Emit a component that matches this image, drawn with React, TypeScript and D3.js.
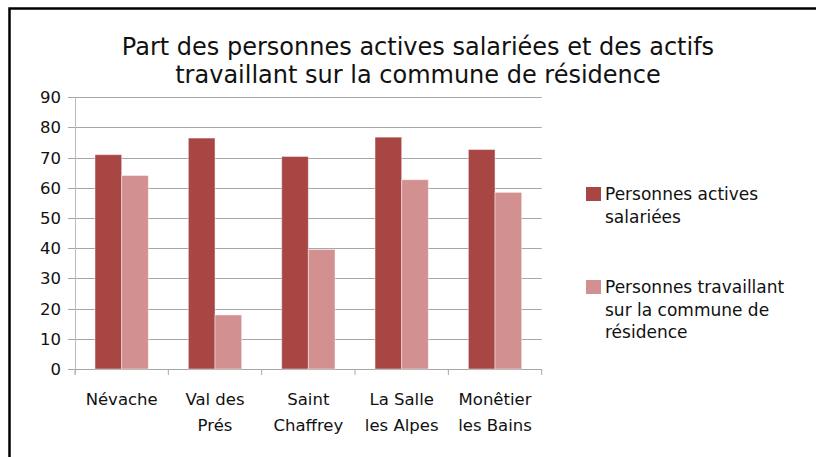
import React, { useEffect, useRef } from 'react';
import * as d3 from 'd3';

const communes = [['Névache'], ['Val des', 'Prés'], ['Saint', 'Chaffrey'], ['La Salle', 'les Alpes'], ['Monêtier', 'les Bains']];
const salaries = [71, 76.5, 70.4, 76.8, 72.7];
const travaillant = [64.1, 17.9, 39.6, 62.7, 58.5];
const seriesNames = [['Personnes actives', 'salariées'], ['Personnes travaillant', 'sur la commune de', 'résidence']];
const yTicks = [0, 10, 20, 30, 40, 50, 60, 70, 80, 90];
const titleLines = ['Part des personnes actives salariées et des actifs', 'travaillant sur la commune de résidence'];
const colors = ['#a84644', '#d39090'];

const FONT = '"DejaVu Sans", sans-serif';

const App: React.FC = () => {
  const svgRef = useRef<SVGSVGElement>(null);

  useEffect(() => {
    if (!svgRef.current) return;
    const svg = d3.select(svgRef.current).html('');

    // frame (left and top only)
    svg.append('path').attr('d', 'M9.5,470 V8.5 H830').attr('fill', 'none').attr('stroke', '#000').attr('stroke-width', 2.5);

    const left = 75, right = 541.7, top = 97.3, bottom = 369;
    const keys = communes.map((c) => c.join(' '));
    const x = d3.scaleBand().domain(keys).range([left, right]).padding(0);
    const y = d3.scaleLinear().domain([0, 90]).range([bottom, top]);
    const inner = d3.scaleBand().domain(['0', '1']).range([0, x.bandwidth()]).paddingOuter(0.75).paddingInner(0);

    // title
    svg.append('text').attr('x', 418).attr('y', 55).attr('text-anchor', 'middle')
      .attr('font-family', FONT).attr('font-size', 24).attr('fill', '#111')
      .selectAll('tspan').data(titleLines).join('tspan')
      .attr('x', 418).attr('dy', (_, i) => (i === 0 ? 0 : 28)).text((d) => d);

    // grid
    svg.append('g').selectAll('line').data(yTicks).join('line')
      .attr('x1', left - 7).attr('x2', right)
      .attr('y1', (d) => Math.round(y(d)) + 0.5).attr('y2', (d) => Math.round(y(d)) + 0.5)
      .attr('stroke', '#a6a6a6').attr('stroke-width', 1);

    svg.append('line').attr('x1', left + 0.5).attr('x2', left + 0.5).attr('y1', top).attr('y2', bottom + 5)
      .attr('stroke', '#bbb');

    // x ticks
    svg.append('g').selectAll('line').data(d3.range(keys.length + 1)).join('line')
      .attr('x1', (i) => left + i * x.bandwidth()).attr('x2', (i) => left + i * x.bandwidth())
      .attr('y1', bottom).attr('y2', bottom + 6).attr('stroke', '#aaa');

    // y labels
    svg.append('g').selectAll('text').data(yTicks).join('text')
      .attr('x', 61).attr('y', (d) => y(d) + 6).attr('text-anchor', 'end')
      .attr('font-family', FONT).attr('font-size', 16.5).attr('fill', '#111').text((d) => d);

    // bars
    const groups = svg.append('g').selectAll('g').data(keys).join('g')
      .attr('transform', (d) => `translate(${x(d)},0)`);
    groups.each(function (_, i) {
      const g = d3.select(this);
      [salaries[i], travaillant[i]].forEach((v, s) => {
        g.append('rect')
          .attr('x', inner(String(s))!).attr('width', inner.bandwidth())
          .attr('y', y(v)).attr('height', bottom - y(v))
          .attr('fill', colors[s]).attr('stroke', 'rgba(255,255,255,0.45)').attr('stroke-width', 1);
      });
    });

    // x labels
    svg.append('g').selectAll('text').data(communes).join('text')
      .attr('font-family', FONT).attr('font-size', 16.5).attr('fill', '#111').attr('text-anchor', 'middle')
      .each(function (lines, i) {
        const cx = x(keys[i])! + x.bandwidth() / 2;
        d3.select(this).selectAll('tspan').data(lines).join('tspan')
          .attr('x', cx).attr('y', (_, j) => 405 + j * 25.5).text((t) => t);
      });

    // legend
    const legendY = [194, 287];
    seriesNames.forEach((lines, s) => {
      svg.append('rect').attr('x', 586).attr('y', legendY[s] - 7).attr('width', 15).attr('height', 14).attr('fill', colors[s]);
      svg.append('text').attr('font-family', FONT).attr('font-size', 17).attr('fill', '#111')
        .selectAll('tspan').data(lines).join('tspan')
        .attr('x', 605).attr('y', (_, j) => legendY[s] + 6 + j * 22.5).text((t) => t);
    });
  }, []);

  return (
    <svg ref={svgRef} width={816} height={457} style={{ position: 'absolute', left: 0, top: 0, background: '#fff' }} />
  );
};

export default App;
